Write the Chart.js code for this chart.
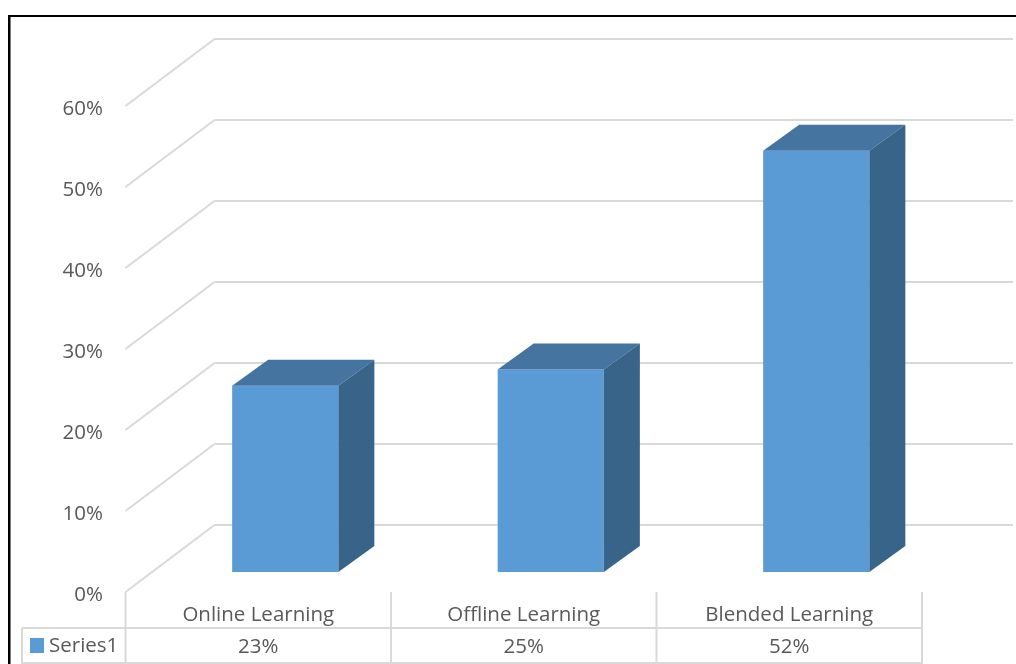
<!DOCTYPE html>
<html lang="en">
<head>
    <meta charset="UTF-8">
    <script src="https://cdn.jsdelivr.net/npm/chart.js"></script>
    <title>Learning</title>
    <style>
        body { margin: 0; background: #fff; }
        canvas { display: block; }
    </style>
</head>
<body>
<canvas id="myChart" width="1016" height="664"></canvas>
<script>
    const categories = ['Online Learning', 'Offline Learning', 'Blended Learning'];
    const series1 = [23, 25, 52];
    const seriesName = 'Series1';
    const yTicks = [0, 10, 20, 30, 40, 50, 60];

    const fontName = '"Open Sans", "Noto Sans", sans-serif';
    const fontSize = 20.5;
    const textColor = '#595959';
    const lineColor = '#d9d9d9';
    const front = '#5b9bd5';
    const topFace = '#44749f';
    const sideFace = '#38648a';

    // fake 3d: offsets of the floor, relative to the plane the bars stand on
    const frontDx = 27, frontDy = 20;
    const backDx = 62, backDy = 47;
    const barDx = 36, barDy = 26;

    function line(ctx, x1, y1, x2, y2) {
        ctx.beginPath();
        ctx.moveTo(x1, y1);
        ctx.lineTo(x2, y2);
        ctx.stroke();
    }

    function poly(ctx, pts, color) {
        ctx.fillStyle = color;
        ctx.beginPath();
        ctx.moveTo(pts[0][0], pts[0][1]);
        pts.slice(1).forEach(p => ctx.lineTo(p[0], p[1]));
        ctx.closePath();
        ctx.fill();
    }

    const frame3d = {
        id: 'frame3d',
        beforeDraw(chart) {
            const ctx = chart.ctx;
            ctx.save();
            ctx.fillStyle = '#fff';
            ctx.fillRect(0, 0, chart.width, chart.height);
            ctx.fillStyle = '#000';
            ctx.fillRect(8, 15, chart.width - 8, 2);
            ctx.fillRect(8, 15, 2.5, chart.height - 15);
            ctx.restore();
        },
        beforeDatasetsDraw(chart) {
            const ctx = chart.ctx;
            const x = chart.scales.x, y = chart.scales.y;
            const left = chart.chartArea.left - frontDx;
            ctx.save();
            ctx.strokeStyle = lineColor;
            ctx.lineWidth = 2;

            // walls
            yTicks.forEach(v => {
                const py = y.getPixelForValue(v);
                line(ctx, left, py + frontDy, left + frontDx + backDx, py - backDy);
                line(ctx, left + frontDx + backDx, py - backDy, 1013, py - backDy);
            });

            // data table
            const tableTop = y.getPixelForValue(0) + frontDy;
            const step = x.getPixelForValue(1) - x.getPixelForValue(0);
            for (let i = 0; i <= categories.length; i++) {
                line(ctx, left + step * i, tableTop, left + step * i, chart.height);
            }
            line(ctx, 22, tableTop + 36, left + step * categories.length, tableTop + 36);
            line(ctx, 22, tableTop + 36, 22, chart.height);
            line(ctx, 22, chart.height - 1, left + step * categories.length, chart.height - 1);

            ctx.fillStyle = front;
            ctx.fillRect(30, tableTop + 46, 14, 15);
            ctx.fillStyle = textColor;
            ctx.font = fontSize + 'px ' + fontName;
            ctx.textBaseline = 'middle';
            ctx.textAlign = 'left';
            ctx.fillText(seriesName, 49, tableTop + 54);
            ctx.restore();
        },
        afterDatasetsDraw(chart) {
            const ctx = chart.ctx;
            ctx.save();
            chart.getDatasetMeta(0).data.forEach(bar => {
                const l = bar.x - bar.width / 2, r = bar.x + bar.width / 2;
                poly(ctx, [[l, bar.y], [l + barDx, bar.y - barDy], [r + barDx, bar.y - barDy], [r, bar.y]], topFace);
                poly(ctx, [[r, bar.y], [r + barDx, bar.y - barDy], [r + barDx, bar.base - barDy], [r, bar.base]], sideFace);
            });
            ctx.restore();
        }
    };

    new Chart(document.getElementById('myChart'), {
        type: 'bar',
        data: {
            labels: categories.map((c, i) => [c, series1[i] + '%']),
            datasets: [{
                label: seriesName,
                data: series1,
                backgroundColor: front,
                categoryPercentage: 1,
                barPercentage: 0.4
            }]
        },
        options: {
            responsive: false,
            animation: false,
            layout: { padding: { top: 86, right: 67, left: 0, bottom: 0 } },
            plugins: { legend: { display: false }, tooltip: { enabled: false } },
            scales: {
                x: {
                    grid: { display: false },
                    border: { display: false },
                    afterFit(s) { s.height = 92; s.paddingLeft = 0; s.paddingRight = 0; },
                    ticks: {
                        color: textColor,
                        font: { family: fontName, size: fontSize, lineHeight: '32px' },
                        maxRotation: 0,
                        autoSkip: false,
                        labelOffset: -27,
                        padding: 19
                    }
                },
                y: {
                    min: 0,
                    max: 60,
                    grid: { display: false, drawTicks: false },
                    border: { display: false },
                    afterFit(s) { s.width = 152.5; },
                    ticks: {
                        color: textColor,
                        font: { family: fontName, size: fontSize },
                        stepSize: 10,
                        padding: 49.5,
                        labelOffset: 23,
                        callback: v => v + '%'
                    }
                }
            }
        },
        plugins: [frame3d]
    });
</script>
</body>
</html>
